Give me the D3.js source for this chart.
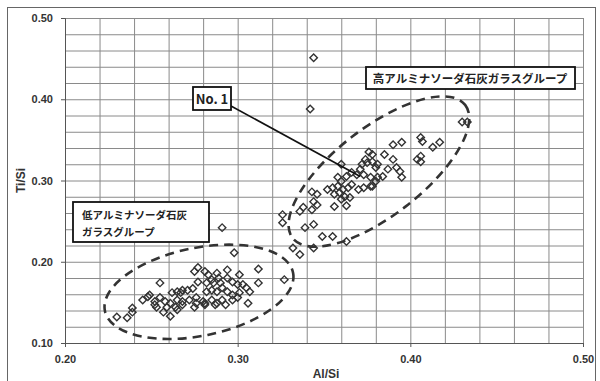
<!DOCTYPE html>
<html>
<head>
<meta charset="utf-8">
<script src="https://cdn.jsdelivr.net/npm/d3@7"></script>
<style>
body{margin:0;background:#fff}
svg{display:block}
.tick text{font-family:"Liberation Sans",Arial,sans-serif;font-weight:bold;font-size:11px;fill:#333}
.grid line{stroke:#8a8a8a;stroke-width:1}
.grid .domain{display:none}
.note{font-family:"Noto Sans CJK JP",sans-serif;font-weight:bold;fill:#222}
</style>
</head>
<body>
<svg></svg>
<script>
// Ti/Si against Al/Si, two glass groups

var highGroup=[
 [0.344,0.451],[0.342,0.388],[0.430,0.372],[0.433,0.372],
 [0.406,0.353],[0.407,0.348],[0.413,0.341],[0.417,0.347],[0.395,0.347],[0.390,0.344],
 [0.406,0.330],[0.406,0.323],[0.404,0.326],[0.385,0.332],[0.390,0.326],
 [0.378,0.332],[0.378,0.323],[0.380,0.316],[0.387,0.314],[0.392,0.316],[0.394,0.311],[0.395,0.304],
 [0.384,0.305],[0.381,0.304],[0.380,0.299],[0.378,0.293],
 [0.376,0.335],[0.374,0.326],[0.372,0.320],[0.375,0.322],[0.381,0.320],[0.360,0.320],
 [0.371,0.314],[0.366,0.310],[0.363,0.305],[0.369,0.307],[0.373,0.307],[0.377,0.304],
 [0.358,0.304],[0.360,0.299],
 [0.352,0.289],[0.355,0.291],[0.358,0.293],[0.361,0.289],[0.364,0.291],[0.366,0.295],[0.370,0.289],[0.373,0.291],[0.377,0.293],
 [0.343,0.286],[0.346,0.283],[0.356,0.283],[0.359,0.285],[0.362,0.280],[0.365,0.279],[0.360,0.277],
 [0.344,0.274],[0.346,0.270],[0.356,0.268],[0.363,0.269],
 [0.338,0.267],[0.343,0.264],[0.336,0.262],[0.326,0.258],[0.326,0.248],
 [0.339,0.242],[0.344,0.246],[0.349,0.231],[0.355,0.231],[0.363,0.225],
 [0.344,0.217],[0.332,0.217],[0.336,0.209]
];

var lowGroup=[
 [0.291,0.242],[0.298,0.211],[0.327,0.178],
 [0.277,0.193],[0.275,0.188],[0.281,0.188],[0.283,0.184],[0.288,0.186],[0.289,0.180],[0.294,0.190],[0.301,0.184],[0.312,0.191],
 [0.255,0.174],[0.277,0.175],[0.282,0.174],[0.285,0.178],[0.290,0.174],[0.294,0.180],[0.297,0.175],[0.300,0.172],[0.286,0.174],
 [0.303,0.172],[0.312,0.174],[0.305,0.168],[0.307,0.163],
 [0.265,0.163],[0.268,0.165],[0.271,0.165],[0.274,0.167],[0.267,0.162],
 [0.262,0.162],[0.282,0.163],[0.285,0.165],[0.288,0.163],[0.291,0.168],[0.294,0.163],[0.297,0.159],[0.301,0.162],
 [0.245,0.153],[0.248,0.157],[0.249,0.159],
 [0.252,0.151],[0.255,0.156],[0.258,0.151],[0.261,0.149],[0.265,0.153],[0.268,0.151],[0.272,0.153],[0.276,0.156],
 [0.280,0.151],[0.285,0.153],[0.288,0.149],[0.291,0.153],[0.297,0.153],[0.300,0.156],[0.306,0.149],[0.276,0.149],[0.281,0.149],
 [0.253,0.144],[0.259,0.144],[0.264,0.144],[0.268,0.147],[0.275,0.144],[0.281,0.147],[0.287,0.147],[0.293,0.147],[0.252,0.147],
 [0.239,0.143],[0.239,0.138],[0.257,0.138],[0.261,0.133],[0.265,0.141],
 [0.236,0.131],[0.230,0.132]
];

var xTicks=[0.20,0.30,0.40,0.50];
var yTicks=[0.10,0.20,0.30,0.40,0.50];
var xGrid=d3.range(0,16).map(function(i){return 0.20+i*0.02;});
var yGrid=d3.range(0,21).map(function(i){return 0.10+i*0.02;});

var svgWidth=600,svgHeight=381;
var margin={top:18,right:17,bottom:38,left:65};
var width=svgWidth-margin.left-margin.right,
    height=svgHeight-margin.top-margin.bottom;

var svg=d3.select("svg")
    .attr("width",svgWidth)
    .attr("height",svgHeight);

// outer frame of the chart
svg.append("rect")
    .attr("x",7.5).attr("y",7.5)
    .attr("width",588).attr("height",390)
    .attr("fill","none").attr("stroke","#666").attr("stroke-width",1);

var g=svg.append("g").attr("transform","translate("+margin.left+","+margin.top+")");

var x=d3.scaleLinear().domain([0.2,0.5]).range([0,width]);
var y=d3.scaleLinear().domain([0.1,0.5]).range([height,0]);

g.append("g").attr("class","grid")
    .attr("transform","translate(0,"+height+")")
    .call(d3.axisBottom(x).tickValues(xGrid).tickSize(-height).tickFormat(""));
g.append("g").attr("class","grid")
    .call(d3.axisLeft(y).tickValues(yGrid).tickSize(-width).tickFormat(""));

var xAxis=g.append("g")
    .attr("transform","translate(0,"+height+")")
    .call(d3.axisBottom(x).tickValues(xTicks).tickFormat(d3.format(".2f")).tickSize(4).tickPadding(8));
var yAxis=g.append("g")
    .call(d3.axisLeft(y).tickValues(yTicks).tickFormat(d3.format(".2f")).tickSize(4).tickPadding(8));
[xAxis,yAxis].forEach(function(a){
    a.select(".domain").attr("stroke","#555");
    a.selectAll(".tick line").attr("stroke","#555");
});

// axis titles
svg.append("text")
    .attr("x",margin.left+x(0.35)+2).attr("y",378)
    .attr("text-anchor","middle")
    .style("font-family","Liberation Sans,Arial,sans-serif")
    .style("font-weight","bold").style("font-size","12px").attr("fill","#333")
    .text("Al/Si");
svg.append("text")
    .attr("transform","translate(25,"+(margin.top+y(0.3))+") rotate(-90)")
    .attr("text-anchor","middle")
    .style("font-family","Liberation Sans,Arial,sans-serif")
    .style("font-weight","bold").style("font-size","12px").attr("fill","#333")
    .text("Ti/Si");

// group ellipses (centre in data units, radii in px)
var ellipses=[
  {cx:0.2776,cy:0.163,rx:96,ry:44,angle:-11.5},
  {cx:0.3818,cy:0.311,rx:109,ry:44,angle:-37.7}
];
g.selectAll("ellipse")
    .data(ellipses)
    .enter()
    .append("ellipse")
    .attr("cx",function(d){return x(d.cx);})
    .attr("cy",function(d){return y(d.cy);})
    .attr("rx",function(d){return d.rx;})
    .attr("ry",function(d){return d.ry;})
    .attr("transform",function(d){return "rotate("+d.angle+","+x(d.cx)+","+y(d.cy)+")";})
    .attr("fill","none")
    .attr("stroke","#333")
    .attr("stroke-width",2.6)
    .attr("stroke-dasharray","9,6");

// points
var diamond=d3.symbol().type(d3.symbolSquare).size(28);
g.selectAll("path.pt")
    .data(highGroup.concat(lowGroup))
    .enter()
    .append("path")
    .attr("class","pt")
    .attr("d",diamond)
    .attr("transform",function(d){return "translate("+x(d[0])+","+y(d[1])+") rotate(45)";})
    .attr("fill","none")
    .attr("stroke","#333")
    .attr("stroke-width",1.4);

// No.1 label with leader line
var no1={x:0.371,y:0.305};
g.append("line")
    .attr("x1",231-margin.left).attr("y1",106-margin.top)
    .attr("x2",x(no1.x)).attr("y2",y(no1.y))
    .attr("stroke","#111").attr("stroke-width",1.6);

function box(x0,y0,w,h){
    svg.append("rect")
      .attr("x",x0).attr("y",y0).attr("width",w).attr("height",h)
      .attr("fill","#fff").attr("stroke","#111").attr("stroke-width",1.8);
}
box(193,87,38,23);
svg.append("text").attr("class","note")
    .attr("x",212).attr("y",104).attr("text-anchor","middle")
    .style("font-size","13px").text("No. 1");

box(366,67,209,22);
svg.append("text").attr("class","note")
    .attr("x",470).attr("y",83).attr("text-anchor","middle")
    .style("font-size","11.5px").text("高アルミナソーダ石灰ガラスグループ");

box(73,202,136,40);
svg.append("text").attr("class","note")
    .attr("x",82).attr("y",219)
    .style("font-size","10.5px").text("低アルミナソーダ石灰");
svg.append("text").attr("class","note")
    .attr("x",82).attr("y",236)
    .style("font-size","10.5px").text("ガラスグループ");
</script>
</body>
</html>
